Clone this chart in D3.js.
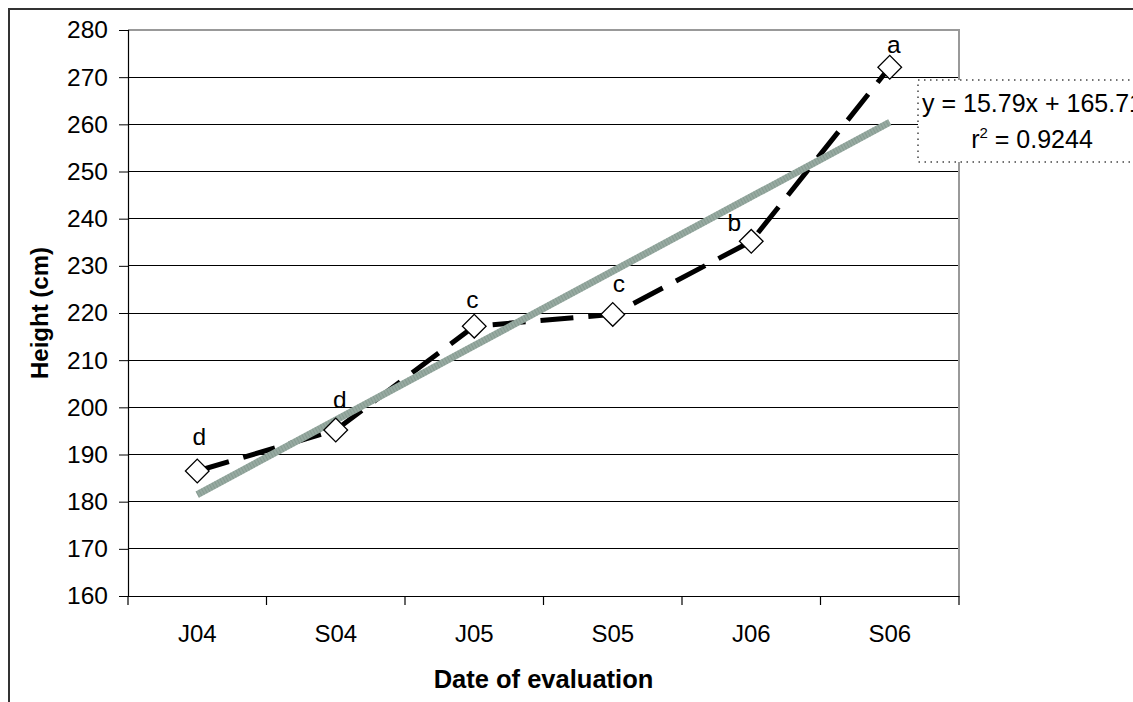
<!DOCTYPE html>
<html><head><meta charset="utf-8">
<script src="https://cdn.jsdelivr.net/npm/d3@7"></script>
<style>
html,body{margin:0;padding:0;background:#fff;}
svg{display:block;font-family:"Liberation Sans",Arial,sans-serif;}
</style></head>
<body><svg id="c" width="1133" height="702"></svg>
<script>
const categories = ["J04","S04","J05","S05","J06","S06"];
const heights = [186.5, 195.2, 217.2, 219.7, 235.2, 272.1];
const letters = ["d","d","c","c","b","a"];
const yTicks = [160,170,180,190,200,210,220,230,240,250,260,270,280];
const trendSlope = 15.79, trendIntercept = 165.71;
const equationText = "y = 15.79x + 165.71";
const r2Text = "0.9244";
// label offsets (pixels) relative to points
const labelDx = [2, 4, -2, 6, -17, 4];
const labelDy = [-26, -22, -18, -22, -10, -14];

const FONT = "Liberation Sans, Arial, sans-serif";
const svg = d3.select("#c");
const M = {l:128, r:959, t:30, b:596};

// outer chart border
svg.append("path").attr("d","M9,702 L9,9 L1133,9").attr("fill","none").attr("stroke","#333").attr("stroke-width",2);

const x = d3.scaleBand().domain(categories).range([M.l, M.r]).padding(0);
const y = d3.scaleLinear().domain([160,280]).range([M.b, M.t]);

// gridlines
svg.append("g").selectAll("line").data(yTicks.filter(t=>t>160 && t<280)).join("line")
  .attr("x1",M.l).attr("x2",M.r).attr("y1",d=>y(d)).attr("y2",d=>y(d))
  .attr("stroke","#000").attr("stroke-width",1).attr("shape-rendering","crispEdges");

// plot border top/right gray
svg.append("path").attr("d",`M${M.l},${y(280)} L${M.r},${y(280)} L${M.r},${M.b}`)
  .attr("fill","none").attr("stroke","#999").attr("stroke-width",2);

// y axis
const yAxis = d3.axisLeft(y).tickValues(yTicks).tickSize(9).tickPadding(11);
const gy = svg.append("g").attr("transform",`translate(${M.l},0)`).call(yAxis);
gy.attr("font-size",null).attr("font-family",null);
gy.select(".domain").attr("stroke","#000").attr("stroke-width",1.2);
gy.selectAll(".tick line").attr("stroke","#000");
gy.selectAll("text").style("font-size","24.5px").attr("fill","#000").style("font-family",FONT);

// x axis
const gx = svg.append("g").attr("transform",`translate(0,${M.b})`).call(d3.axisBottom(x).tickSize(0).tickPadding(29));
gx.attr("font-size",null).attr("font-family",null);
gx.select(".domain").attr("stroke","#000").attr("stroke-width",1.2);
gx.selectAll("text").style("font-size","24px").attr("fill","#000").style("font-family",FONT);
const bounds = categories.map(c=>x(c)).concat([x(categories[categories.length-1])+x.bandwidth()]);
svg.append("g").selectAll("line").data(bounds).join("line")
  .attr("x1",d=>d).attr("x2",d=>d).attr("y1",M.b).attr("y2",M.b+9).attr("stroke","#000").attr("stroke-width",1.2);

// axis titles
svg.append("text").attr("transform",`translate(48,${(M.t+M.b)/2}) rotate(-90)`)
  .attr("text-anchor","middle").attr("font-weight","bold").style("font-size","24px").text("Height (cm)");
svg.append("text").attr("x",(M.l+M.r)/2).attr("y",688).attr("text-anchor","middle")
  .attr("font-weight","bold").style("font-size","25.5px").text("Date of evaluation");

const cx = c => x(c) + x.bandwidth()/2;

// data line
const line = d3.line().x((d,i)=>cx(categories[i])).y(d=>y(d));
svg.append("path").datum(heights).attr("d",line).attr("fill","none")
  .attr("stroke","#000").attr("stroke-width",5).attr("stroke-dasharray","33,15");

// trend line
const trendVals = categories.map((c,i)=>trendIntercept + trendSlope*(i+1));
svg.append("path").datum(trendVals).attr("d",line).attr("fill","none")
  .attr("stroke","#97aaa1").attr("stroke-width",7);
svg.append("path").datum(trendVals).attr("d",line).attr("fill","none")
  .attr("stroke","#6f847b").attr("stroke-width",7).attr("stroke-dasharray","1,2").attr("opacity",0.4);

// markers
const sym = d3.symbol().type(d3.symbolSquare).size(280);
svg.append("g").selectAll("path").data(heights).join("path")
  .attr("d",sym).attr("transform",(d,i)=>`translate(${cx(categories[i])},${y(d)}) rotate(45)`)
  .attr("fill","#fff").attr("stroke","#000").attr("stroke-width",1.3);

// letters
svg.append("g").selectAll("text").data(heights).join("text")
  .attr("x",(d,i)=>cx(categories[i])+labelDx[i]).attr("y",(d,i)=>y(d)+labelDy[i])
  .attr("text-anchor","middle").style("font-size","24.5px").text((d,i)=>letters[i]);

// equation box
const eq = svg.append("g");
eq.append("rect").attr("x",918).attr("y",80).attr("width",230).attr("height",82)
  .attr("fill","#fff").attr("stroke","#444")
  .attr("stroke-width",1.5).attr("stroke-dasharray","1.5,4.5");
eq.append("text").attr("x",922).attr("y",112).style("font-size","25px").text(equationText);
const r2 = eq.append("text").attr("x",1032).attr("y",148).style("font-size","25px").attr("text-anchor","middle");
r2.append("tspan").text("r");
r2.append("tspan").attr("dy",-10).style("font-size","15px").text("2");
r2.append("tspan").attr("dy",10).text(" = " + r2Text);
</script></body></html>
